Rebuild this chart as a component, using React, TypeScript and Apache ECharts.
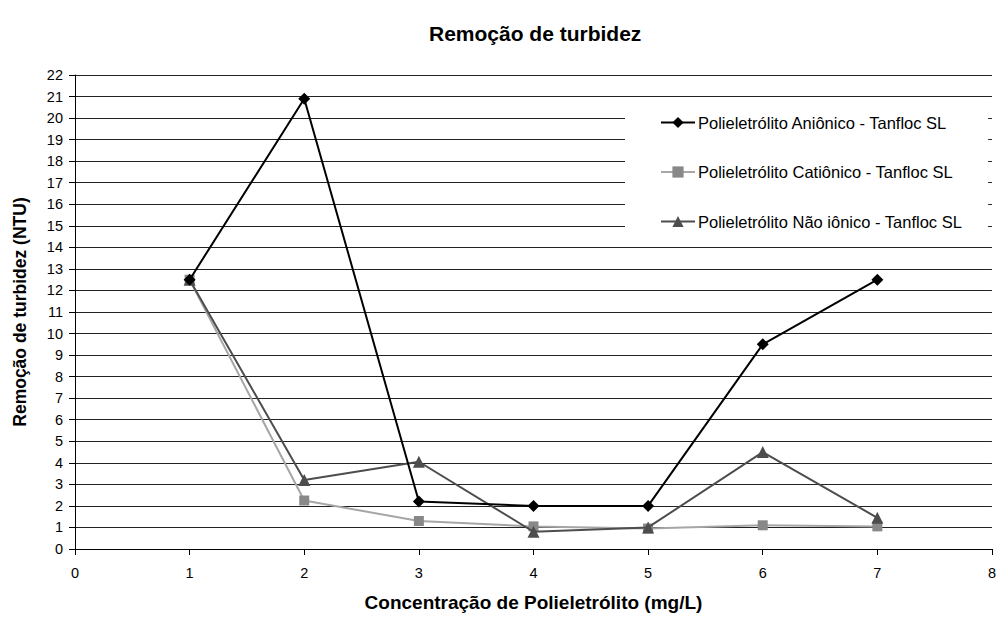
import React, { useEffect, useRef } from "react";
import * as echarts from "echarts";

const xValues = [1, 2, 3, 4, 5, 6, 7];
const anionico = [12.5, 20.9, 2.2, 2.0, 2.0, 9.5, 12.5];
const cationico = [12.5, 2.25, 1.3, 1.05, 0.95, 1.1, 1.05];
const naoIonico = [12.5, 3.2, 4.05, 0.8, 1.0, 4.5, 1.45];
const seriesNames = [
  "Polieletrólito Aniônico - Tanfloc SL",
  "Polieletrólito Catiônico - Tanfloc SL",
  "Polieletrólito Não iônico - Tanfloc SL",
];

const pairs = (ys: number[]) => xValues.map((x, i) => [x, ys[i]]);

export default function App() {
  const ref = useRef<HTMLDivElement>(null);
  useEffect(() => {
    if (!ref.current) return;
    const chart = echarts.init(ref.current, undefined, { renderer: "svg" });
    const font = "'Liberation Sans', Arial, sans-serif";
    chart.setOption({
      animation: false,
      backgroundColor: "#fff",
      textStyle: { fontFamily: font },
      title: {
        text: "Remoção de turbidez",
        left: 424,
        top: 18,
        textStyle: { fontSize: 21, fontWeight: "bold", color: "#000", fontFamily: font },
      },
      grid: { left: 75, right: 6, top: 75, bottom: 66, containLabel: false },
      legend: {
        orient: "vertical",
        left: 625,
        top: 100,
        backgroundColor: "#fff",
        padding: [14, 26, 14, 35],
        itemGap: 32.5,
        itemWidth: 34,
        itemHeight: 14,
        textStyle: { fontSize: 16.5, color: "#000", fontFamily: font, padding: [0, 0, 0, -2] },
        data: seriesNames,
      },
      xAxis: {
        type: "value",
        min: 0,
        max: 8,
        interval: 1,
        name: "Concentração de Polieletrólito (mg/L)",
        nameLocation: "middle",
        nameGap: 44,
        nameTextStyle: { fontSize: 19, fontWeight: "bold", color: "#000", fontFamily: font },
        axisLine: { lineStyle: { color: "#000", width: 1 } },
        axisTick: { show: true, inside: false, length: 6, lineStyle: { color: "#000" } },
        axisLabel: { fontSize: 14.5, color: "#000", margin: 16, fontFamily: font },
        splitLine: { show: false },
      },
      yAxis: {
        type: "value",
        min: 0,
        max: 22,
        interval: 1,
        name: "Remoção de turbidez (NTU)",
        nameLocation: "middle",
        nameGap: 46,
        nameRotate: 90,
        nameTextStyle: { fontSize: 17.5, fontWeight: "bold", color: "#000", fontFamily: font },
        axisLine: { show: true, lineStyle: { color: "#000", width: 1 } },
        axisTick: { show: true, inside: false, length: 6, lineStyle: { color: "#000" } },
        axisLabel: { fontSize: 14.5, color: "#000", margin: 12, fontFamily: font },
        splitLine: { show: true, lineStyle: { color: "#222", width: 1 } },
      },
      series: [
        {
          name: seriesNames[0],
          type: "line",
          data: pairs(anionico),
          symbol: "diamond",
          symbolSize: 12,
          lineStyle: { color: "#000", width: 2 },
          itemStyle: { color: "#000" },
          z: 4,
        },
        {
          name: seriesNames[1],
          type: "line",
          data: pairs(cationico),
          symbol: "rect",
          symbolSize: 10,
          lineStyle: { color: "#a6a6a6", width: 2 },
          itemStyle: { color: "#888" },
          z: 2,
        },
        {
          name: seriesNames[2],
          type: "line",
          data: pairs(naoIonico),
          symbol: "triangle",
          symbolSize: 12,
          lineStyle: { color: "#4d4d4d", width: 2 },
          itemStyle: { color: "#4d4d4d" },
          z: 3,
        },
      ],
    });
    return () => chart.dispose();
  }, []);
  return <div ref={ref} style={{ width: 999, height: 617, position: "absolute", left: 0, top: 0 }} />;
}
